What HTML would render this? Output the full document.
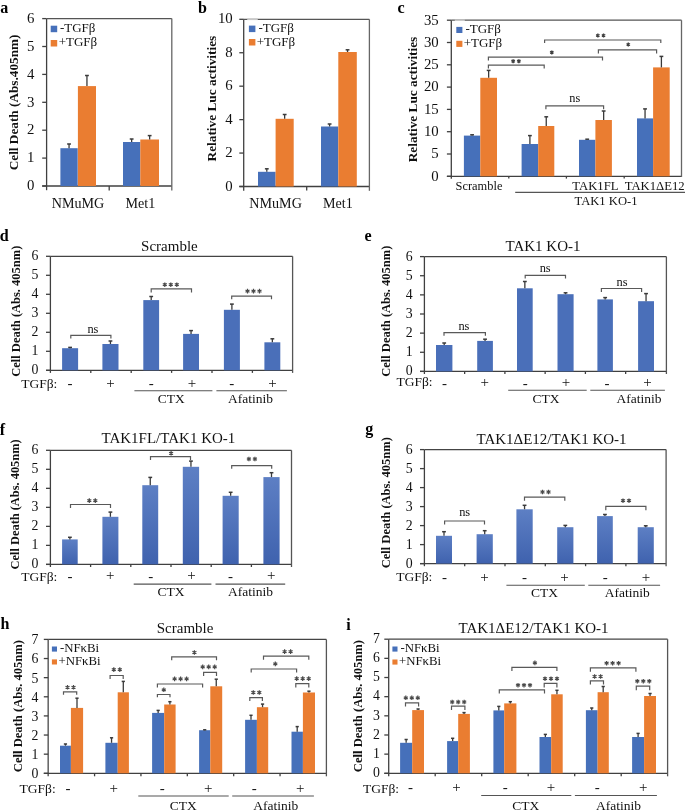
<!DOCTYPE html>
<html><head><meta charset="utf-8"><style>
html,body{margin:0;padding:0;background:#fff;overflow:hidden;width:685px;height:811px;}
svg{display:block;font-family:"Liberation Serif", serif;will-change:transform;}
</style></head><body>
<svg width="685" height="811" viewBox="0 0 685 811">
<defs><linearGradient id="g1" x1="0" y1="0" x2="0" y2="1"><stop offset="0" stop-color="#5d7fc4"/><stop offset="1" stop-color="#3f62ae"/></linearGradient></defs>
<rect width="685" height="811" fill="#fff"/>
<text transform="translate(0.30,12.70) scale(0.92,1)" font-size="17.5" font-weight="bold" fill="#000">a</text>
<line x1="46.60" y1="18.60" x2="46.60" y2="190.20" stroke="#404040" stroke-width="1.3"/>
<line x1="42.20" y1="186.00" x2="46.60" y2="186.00" stroke="#404040" stroke-width="1.3"/>
<text x="34.40" y="190.20" font-size="14.8" text-anchor="end" fill="#111" >0</text>
<line x1="42.20" y1="158.10" x2="46.60" y2="158.10" stroke="#404040" stroke-width="1.3"/>
<text x="34.40" y="162.30" font-size="14.8" text-anchor="end" fill="#111" >1</text>
<line x1="42.20" y1="130.20" x2="46.60" y2="130.20" stroke="#404040" stroke-width="1.3"/>
<text x="34.40" y="134.40" font-size="14.8" text-anchor="end" fill="#111" >2</text>
<line x1="42.20" y1="102.30" x2="46.60" y2="102.30" stroke="#404040" stroke-width="1.3"/>
<text x="34.40" y="106.50" font-size="14.8" text-anchor="end" fill="#111" >3</text>
<line x1="42.20" y1="74.40" x2="46.60" y2="74.40" stroke="#404040" stroke-width="1.3"/>
<text x="34.40" y="78.60" font-size="14.8" text-anchor="end" fill="#111" >4</text>
<line x1="42.20" y1="46.50" x2="46.60" y2="46.50" stroke="#404040" stroke-width="1.3"/>
<text x="34.40" y="50.70" font-size="14.8" text-anchor="end" fill="#111" >5</text>
<line x1="42.20" y1="18.60" x2="46.60" y2="18.60" stroke="#404040" stroke-width="1.3"/>
<text x="34.40" y="22.80" font-size="14.8" text-anchor="end" fill="#111" >6</text>
<line x1="42.20" y1="186.00" x2="171.80" y2="186.00" stroke="#404040" stroke-width="1.3"/>
<line x1="46.60" y1="18.60" x2="171.80" y2="18.60" stroke="#555" stroke-width="1.3"/>
<line x1="171.80" y1="18.60" x2="171.80" y2="190.60" stroke="#666" stroke-width="1.3"/>
<line x1="109.20" y1="186.00" x2="109.20" y2="190.40" stroke="#404040" stroke-width="1.3"/>
<rect x="60.40" y="148.20" width="17.30" height="37.80" fill="#4670BA"/>
<line x1="69.05" y1="148.20" x2="69.05" y2="144.00" stroke="#3a3a3a" stroke-width="1.3"/>
<line x1="67.15" y1="144.00" x2="70.95" y2="144.00" stroke="#3a3a3a" stroke-width="1.5"/>
<rect x="77.90" y="86.10" width="18.10" height="99.90" fill="#EA7D31"/>
<line x1="86.95" y1="86.10" x2="86.95" y2="75.50" stroke="#3a3a3a" stroke-width="1.3"/>
<line x1="85.05" y1="75.50" x2="88.85" y2="75.50" stroke="#3a3a3a" stroke-width="1.5"/>
<rect x="123.00" y="142.00" width="17.30" height="44.00" fill="#4670BA"/>
<line x1="131.65" y1="142.00" x2="131.65" y2="139.00" stroke="#3a3a3a" stroke-width="1.3"/>
<line x1="129.75" y1="139.00" x2="133.55" y2="139.00" stroke="#3a3a3a" stroke-width="1.5"/>
<rect x="140.30" y="139.50" width="18.70" height="46.50" fill="#EA7D31"/>
<line x1="149.65" y1="139.50" x2="149.65" y2="135.60" stroke="#3a3a3a" stroke-width="1.3"/>
<line x1="147.75" y1="135.60" x2="151.55" y2="135.60" stroke="#3a3a3a" stroke-width="1.5"/>
<text x="78.00" y="208.00" font-size="14.1" text-anchor="middle" fill="#111" >NMuMG</text>
<text x="140.40" y="208.00" font-size="14.1" text-anchor="middle" fill="#111" >Met1</text>
<rect x="50.70" y="25.70" width="6.50" height="6.50" fill="#4670BA"/>
<rect x="50.70" y="40.00" width="6.50" height="6.50" fill="#EA7D31"/>
<text x="59.90" y="31.80" font-size="13.0" text-anchor="start" fill="#111" >-TGFβ</text>
<text x="58.70" y="46.30" font-size="13.0" text-anchor="start" fill="#111" >+TGFβ</text>
<text transform="translate(13.40,102.40) rotate(-90)" x="0" y="0" font-size="13.2" text-anchor="middle" dominant-baseline="central" font-weight="bold" fill="#111" textLength="135.7" lengthAdjust="spacingAndGlyphs">Cell Death (Abs.405nm)</text>
<text transform="translate(198.10,12.60) scale(0.92,1)" font-size="17.5" font-weight="bold" fill="#000">b</text>
<line x1="243.70" y1="19.30" x2="243.70" y2="190.70" stroke="#404040" stroke-width="1.3"/>
<line x1="239.30" y1="186.50" x2="243.70" y2="186.50" stroke="#404040" stroke-width="1.3"/>
<text x="232.70" y="190.50" font-size="14.8" text-anchor="end" fill="#111" >0</text>
<line x1="239.30" y1="153.06" x2="243.70" y2="153.06" stroke="#404040" stroke-width="1.3"/>
<text x="232.70" y="157.06" font-size="14.8" text-anchor="end" fill="#111" >2</text>
<line x1="239.30" y1="119.62" x2="243.70" y2="119.62" stroke="#404040" stroke-width="1.3"/>
<text x="232.70" y="123.62" font-size="14.8" text-anchor="end" fill="#111" >4</text>
<line x1="239.30" y1="86.18" x2="243.70" y2="86.18" stroke="#404040" stroke-width="1.3"/>
<text x="232.70" y="90.18" font-size="14.8" text-anchor="end" fill="#111" >6</text>
<line x1="239.30" y1="52.74" x2="243.70" y2="52.74" stroke="#404040" stroke-width="1.3"/>
<text x="232.70" y="56.74" font-size="14.8" text-anchor="end" fill="#111" >8</text>
<line x1="239.30" y1="19.30" x2="243.70" y2="19.30" stroke="#404040" stroke-width="1.3"/>
<text x="232.70" y="23.30" font-size="14.8" text-anchor="end" fill="#111" >10</text>
<line x1="239.30" y1="186.50" x2="369.40" y2="186.50" stroke="#404040" stroke-width="1.3"/>
<line x1="243.70" y1="19.30" x2="369.40" y2="19.30" stroke="#555" stroke-width="1.3"/>
<line x1="369.40" y1="19.30" x2="369.40" y2="190.80" stroke="#666" stroke-width="1.3"/>
<line x1="306.70" y1="186.50" x2="306.70" y2="190.60" stroke="#404040" stroke-width="1.3"/>
<rect x="258.00" y="171.80" width="17.60" height="14.70" fill="#4670BA"/>
<line x1="266.80" y1="171.80" x2="266.80" y2="168.80" stroke="#3a3a3a" stroke-width="1.3"/>
<line x1="264.90" y1="168.80" x2="268.70" y2="168.80" stroke="#3a3a3a" stroke-width="1.5"/>
<rect x="275.60" y="118.80" width="18.10" height="67.70" fill="#EA7D31"/>
<line x1="284.65" y1="118.80" x2="284.65" y2="114.50" stroke="#3a3a3a" stroke-width="1.3"/>
<line x1="282.75" y1="114.50" x2="286.55" y2="114.50" stroke="#3a3a3a" stroke-width="1.5"/>
<rect x="321.00" y="126.50" width="17.20" height="60.00" fill="#4670BA"/>
<line x1="329.60" y1="126.50" x2="329.60" y2="124.00" stroke="#3a3a3a" stroke-width="1.3"/>
<line x1="327.70" y1="124.00" x2="331.50" y2="124.00" stroke="#3a3a3a" stroke-width="1.5"/>
<rect x="338.30" y="52.00" width="18.50" height="134.50" fill="#EA7D31"/>
<line x1="347.55" y1="52.00" x2="347.55" y2="49.80" stroke="#3a3a3a" stroke-width="1.3"/>
<line x1="345.65" y1="49.80" x2="349.45" y2="49.80" stroke="#3a3a3a" stroke-width="1.5"/>
<text x="275.60" y="208.10" font-size="14.1" text-anchor="middle" fill="#111" >NMuMG</text>
<text x="337.90" y="208.10" font-size="14.1" text-anchor="middle" fill="#111" >Met1</text>
<rect x="248.90" y="25.60" width="6.50" height="6.50" fill="#4670BA"/>
<rect x="248.90" y="39.00" width="6.50" height="6.50" fill="#EA7D31"/>
<text x="258.40" y="31.80" font-size="13.0" text-anchor="start" fill="#111" >-TGFβ</text>
<text x="256.70" y="46.10" font-size="13.0" text-anchor="start" fill="#111" >+TGFβ</text>
<line x1="247.20" y1="19.30" x2="257.80" y2="19.30" stroke="#c8c8c8" stroke-width="1.6"/>
<text transform="translate(211.00,98.60) rotate(-90)" x="0" y="0" font-size="13.2" text-anchor="middle" dominant-baseline="central" font-weight="bold" fill="#111" textLength="125.7" lengthAdjust="spacingAndGlyphs">Relative Luc activities</text>
<text transform="translate(397.50,12.60) scale(0.92,1)" font-size="17.5" font-weight="bold" fill="#000">c</text>
<line x1="451.30" y1="20.20" x2="451.30" y2="178.70" stroke="#404040" stroke-width="1.3"/>
<line x1="446.90" y1="176.30" x2="451.30" y2="176.30" stroke="#404040" stroke-width="1.3"/>
<text x="438.70" y="180.60" font-size="14.8" text-anchor="end" fill="#111" >0</text>
<line x1="446.90" y1="154.00" x2="451.30" y2="154.00" stroke="#404040" stroke-width="1.3"/>
<text x="438.70" y="158.30" font-size="14.8" text-anchor="end" fill="#111" >5</text>
<line x1="446.90" y1="131.70" x2="451.30" y2="131.70" stroke="#404040" stroke-width="1.3"/>
<text x="438.70" y="136.00" font-size="14.8" text-anchor="end" fill="#111" >10</text>
<line x1="446.90" y1="109.40" x2="451.30" y2="109.40" stroke="#404040" stroke-width="1.3"/>
<text x="438.70" y="113.70" font-size="14.8" text-anchor="end" fill="#111" >15</text>
<line x1="446.90" y1="87.10" x2="451.30" y2="87.10" stroke="#404040" stroke-width="1.3"/>
<text x="438.70" y="91.40" font-size="14.8" text-anchor="end" fill="#111" >20</text>
<line x1="446.90" y1="64.80" x2="451.30" y2="64.80" stroke="#404040" stroke-width="1.3"/>
<text x="438.70" y="69.10" font-size="14.8" text-anchor="end" fill="#111" >25</text>
<line x1="446.90" y1="42.50" x2="451.30" y2="42.50" stroke="#404040" stroke-width="1.3"/>
<text x="438.70" y="46.80" font-size="14.8" text-anchor="end" fill="#111" >30</text>
<line x1="446.90" y1="20.20" x2="451.30" y2="20.20" stroke="#404040" stroke-width="1.3"/>
<text x="438.70" y="24.50" font-size="14.8" text-anchor="end" fill="#111" >35</text>
<line x1="446.90" y1="176.30" x2="681.50" y2="176.30" stroke="#404040" stroke-width="1.3"/>
<line x1="451.30" y1="20.20" x2="681.50" y2="20.20" stroke="#555" stroke-width="1.3"/>
<line x1="681.50" y1="20.20" x2="681.50" y2="177.00" stroke="#666" stroke-width="1.3"/>
<line x1="508.80" y1="176.30" x2="508.80" y2="178.60" stroke="#404040" stroke-width="1.3"/>
<line x1="566.40" y1="176.30" x2="566.40" y2="178.60" stroke="#404040" stroke-width="1.3"/>
<line x1="624.20" y1="176.30" x2="624.20" y2="178.60" stroke="#404040" stroke-width="1.3"/>
<rect x="463.90" y="135.60" width="16.40" height="40.70" fill="#4670BA"/>
<line x1="472.10" y1="135.60" x2="472.10" y2="134.80" stroke="#3a3a3a" stroke-width="1.3"/>
<line x1="470.20" y1="134.80" x2="474.00" y2="134.80" stroke="#3a3a3a" stroke-width="1.5"/>
<rect x="480.30" y="77.80" width="16.70" height="98.50" fill="#EA7D31"/>
<line x1="488.65" y1="77.80" x2="488.65" y2="70.40" stroke="#3a3a3a" stroke-width="1.3"/>
<line x1="486.75" y1="70.40" x2="490.55" y2="70.40" stroke="#3a3a3a" stroke-width="1.5"/>
<rect x="521.60" y="144.00" width="16.60" height="32.30" fill="#4670BA"/>
<line x1="529.90" y1="144.00" x2="529.90" y2="135.60" stroke="#3a3a3a" stroke-width="1.3"/>
<line x1="528.00" y1="135.60" x2="531.80" y2="135.60" stroke="#3a3a3a" stroke-width="1.5"/>
<rect x="538.20" y="126.00" width="16.10" height="50.30" fill="#EA7D31"/>
<line x1="546.25" y1="126.00" x2="546.25" y2="116.80" stroke="#3a3a3a" stroke-width="1.3"/>
<line x1="544.35" y1="116.80" x2="548.15" y2="116.80" stroke="#3a3a3a" stroke-width="1.5"/>
<rect x="579.00" y="139.80" width="16.40" height="36.50" fill="#4670BA"/>
<line x1="587.20" y1="139.80" x2="587.20" y2="139.20" stroke="#3a3a3a" stroke-width="1.3"/>
<line x1="585.30" y1="139.20" x2="589.10" y2="139.20" stroke="#3a3a3a" stroke-width="1.5"/>
<rect x="595.40" y="120.00" width="16.50" height="56.30" fill="#EA7D31"/>
<line x1="603.65" y1="120.00" x2="603.65" y2="111.00" stroke="#3a3a3a" stroke-width="1.3"/>
<line x1="601.75" y1="111.00" x2="605.55" y2="111.00" stroke="#3a3a3a" stroke-width="1.5"/>
<rect x="637.00" y="118.40" width="16.10" height="57.90" fill="#4670BA"/>
<line x1="645.05" y1="118.40" x2="645.05" y2="108.90" stroke="#3a3a3a" stroke-width="1.3"/>
<line x1="643.15" y1="108.90" x2="646.95" y2="108.90" stroke="#3a3a3a" stroke-width="1.5"/>
<rect x="653.10" y="67.40" width="16.60" height="108.90" fill="#EA7D31"/>
<line x1="661.40" y1="67.40" x2="661.40" y2="56.40" stroke="#3a3a3a" stroke-width="1.3"/>
<line x1="659.50" y1="56.40" x2="663.30" y2="56.40" stroke="#3a3a3a" stroke-width="1.5"/>
<text x="479.00" y="190.00" font-size="12.4" text-anchor="middle" fill="#111" >Scramble</text>
<text x="595.40" y="189.80" font-size="12.7" text-anchor="middle" fill="#111" >TAK1FL</text>
<text x="654.70" y="189.80" font-size="12.7" text-anchor="middle" fill="#111" >TAK1ΔE12</text>
<line x1="515.20" y1="192.40" x2="685.00" y2="192.40" stroke="#555" stroke-width="1.1"/>
<text x="606.00" y="205.10" font-size="12.6" text-anchor="middle" fill="#111" >TAK1 KO-1</text>
<rect x="456.30" y="26.90" width="6.10" height="6.10" fill="#4670BA"/>
<rect x="456.30" y="40.80" width="6.10" height="6.10" fill="#EA7D31"/>
<text x="465.40" y="32.80" font-size="13.0" text-anchor="start" fill="#111" >-TGFβ</text>
<text x="463.70" y="46.80" font-size="13.0" text-anchor="start" fill="#111" >+TGFβ</text>
<line x1="454.80" y1="20.20" x2="464.80" y2="20.20" stroke="#c8c8c8" stroke-width="1.6"/>
<text transform="translate(412.30,99.50) rotate(-90)" x="0" y="0" font-size="13.2" text-anchor="middle" dominant-baseline="central" font-weight="bold" fill="#111" textLength="125.5" lengthAdjust="spacingAndGlyphs">Relative Luc activities</text>
<path d="M488.40,68.50V65.20H544.20V68.50" fill="none" stroke="#595959" stroke-width="1.2"/>
<path d="M513.15,63.20L513.15,59.20M511.42,62.20L514.88,60.20M514.88,62.20L511.42,60.20M518.85,63.20L518.85,59.20M517.12,62.20L520.58,60.20M520.58,62.20L517.12,60.20" stroke="#404040" stroke-width="1.35" fill="none"/>
<path d="M488.40,60.40V57.10H602.50V60.40" fill="none" stroke="#595959" stroke-width="1.2"/>
<path d="M551.80,54.40L551.80,50.40M550.07,53.40L553.53,51.40M553.53,53.40L550.07,51.40" stroke="#404040" stroke-width="1.35" fill="none"/>
<path d="M544.60,42.90V40.00H660.80V42.90" fill="none" stroke="#595959" stroke-width="1.2"/>
<path d="M597.85,37.50L597.85,33.50M596.12,36.50L599.58,34.50M599.58,36.50L596.12,34.50M603.55,37.50L603.55,33.50M601.82,36.50L605.28,34.50M605.28,36.50L601.82,34.50" stroke="#404040" stroke-width="1.35" fill="none"/>
<path d="M598.40,53.40V49.80H656.60V53.40" fill="none" stroke="#595959" stroke-width="1.2"/>
<path d="M628.30,46.50L628.30,42.50M626.57,45.50L630.03,43.50M630.03,45.50L626.57,43.50" stroke="#404040" stroke-width="1.35" fill="none"/>
<path d="M545.90,109.20V105.90H603.60V109.20" fill="none" stroke="#595959" stroke-width="1.2"/>
<text x="574.80" y="101.90" font-size="12.3" text-anchor="middle" fill="#111" >ns</text>
<text transform="translate(-0.30,241.30) scale(0.92,1)" font-size="17.5" font-weight="bold" fill="#000">d</text>
<line x1="50.40" y1="256.30" x2="50.40" y2="372.90" stroke="#404040" stroke-width="1.3"/>
<line x1="46.00" y1="370.30" x2="50.40" y2="370.30" stroke="#404040" stroke-width="1.3"/>
<text x="38.30" y="374.20" font-size="13.8" text-anchor="end" fill="#111" >0</text>
<line x1="46.00" y1="351.30" x2="50.40" y2="351.30" stroke="#404040" stroke-width="1.3"/>
<text x="38.30" y="355.20" font-size="13.8" text-anchor="end" fill="#111" >1</text>
<line x1="46.00" y1="332.30" x2="50.40" y2="332.30" stroke="#404040" stroke-width="1.3"/>
<text x="38.30" y="336.20" font-size="13.8" text-anchor="end" fill="#111" >2</text>
<line x1="46.00" y1="313.30" x2="50.40" y2="313.30" stroke="#404040" stroke-width="1.3"/>
<text x="38.30" y="317.20" font-size="13.8" text-anchor="end" fill="#111" >3</text>
<line x1="46.00" y1="294.30" x2="50.40" y2="294.30" stroke="#404040" stroke-width="1.3"/>
<text x="38.30" y="298.20" font-size="13.8" text-anchor="end" fill="#111" >4</text>
<line x1="46.00" y1="275.30" x2="50.40" y2="275.30" stroke="#404040" stroke-width="1.3"/>
<text x="38.30" y="279.20" font-size="13.8" text-anchor="end" fill="#111" >5</text>
<line x1="46.00" y1="256.30" x2="50.40" y2="256.30" stroke="#404040" stroke-width="1.3"/>
<text x="38.30" y="260.20" font-size="13.8" text-anchor="end" fill="#111" >6</text>
<line x1="46.00" y1="370.30" x2="292.60" y2="370.30" stroke="#404040" stroke-width="1.3"/>
<line x1="50.40" y1="256.30" x2="292.60" y2="256.30" stroke="#444" stroke-width="1.3"/>
<line x1="292.60" y1="256.30" x2="292.60" y2="372.90" stroke="#555" stroke-width="1.3"/>
<line x1="90.80" y1="370.30" x2="90.80" y2="372.90" stroke="#404040" stroke-width="1.3"/>
<line x1="131.20" y1="370.30" x2="131.20" y2="372.90" stroke="#404040" stroke-width="1.3"/>
<line x1="171.60" y1="370.30" x2="171.60" y2="372.90" stroke="#404040" stroke-width="1.3"/>
<line x1="212.00" y1="370.30" x2="212.00" y2="372.90" stroke="#404040" stroke-width="1.3"/>
<line x1="252.40" y1="370.30" x2="252.40" y2="372.90" stroke="#404040" stroke-width="1.3"/>
<rect x="62.10" y="348.20" width="16.00" height="22.10" fill="#4a6fb9"/>
<line x1="70.10" y1="348.20" x2="70.10" y2="347.40" stroke="#3a3a3a" stroke-width="1.3"/>
<line x1="68.20" y1="347.40" x2="72.00" y2="347.40" stroke="#3a3a3a" stroke-width="1.5"/>
<rect x="102.40" y="344.00" width="16.10" height="26.30" fill="#4a6fb9"/>
<line x1="110.45" y1="344.00" x2="110.45" y2="341.00" stroke="#3a3a3a" stroke-width="1.3"/>
<line x1="108.55" y1="341.00" x2="112.35" y2="341.00" stroke="#3a3a3a" stroke-width="1.5"/>
<rect x="143.30" y="300.10" width="15.80" height="70.20" fill="#4a6fb9"/>
<line x1="151.20" y1="300.10" x2="151.20" y2="296.50" stroke="#3a3a3a" stroke-width="1.3"/>
<line x1="149.30" y1="296.50" x2="153.10" y2="296.50" stroke="#3a3a3a" stroke-width="1.5"/>
<rect x="183.10" y="333.90" width="15.90" height="36.40" fill="#4a6fb9"/>
<line x1="191.05" y1="333.90" x2="191.05" y2="330.60" stroke="#3a3a3a" stroke-width="1.3"/>
<line x1="189.15" y1="330.60" x2="192.95" y2="330.60" stroke="#3a3a3a" stroke-width="1.5"/>
<rect x="223.90" y="309.80" width="16.00" height="60.50" fill="#4a6fb9"/>
<line x1="231.90" y1="309.80" x2="231.90" y2="304.10" stroke="#3a3a3a" stroke-width="1.3"/>
<line x1="230.00" y1="304.10" x2="233.80" y2="304.10" stroke="#3a3a3a" stroke-width="1.5"/>
<rect x="264.40" y="342.30" width="15.90" height="28.00" fill="#4a6fb9"/>
<line x1="272.35" y1="342.30" x2="272.35" y2="338.80" stroke="#3a3a3a" stroke-width="1.3"/>
<line x1="270.45" y1="338.80" x2="274.25" y2="338.80" stroke="#3a3a3a" stroke-width="1.5"/>
<path d="M70.80,338.50V335.30H110.90V338.50" fill="none" stroke="#595959" stroke-width="1.2"/>
<text x="92.90" y="332.90" font-size="12.4" text-anchor="middle" fill="#111" >ns</text>
<path d="M151.20,292.50V288.90H191.50V292.50" fill="none" stroke="#595959" stroke-width="1.2"/>
<path d="M164.80,287.00L164.80,282.40M162.81,285.85L166.79,283.55M166.79,285.85L162.81,283.55M170.80,287.00L170.80,282.40M168.81,285.85L172.79,283.55M172.79,285.85L168.81,283.55M176.80,287.00L176.80,282.40M174.81,285.85L178.79,283.55M178.79,285.85L174.81,283.55" stroke="#4a4a4a" stroke-width="1.2" fill="none"/>
<path d="M231.70,299.30V296.20H271.50V299.30" fill="none" stroke="#595959" stroke-width="1.2"/>
<path d="M247.50,293.40L247.50,288.80M245.51,292.25L249.49,289.95M249.49,292.25L245.51,289.95M253.50,293.40L253.50,288.80M251.51,292.25L255.49,289.95M255.49,292.25L251.51,289.95M259.50,293.40L259.50,288.80M257.51,292.25L261.49,289.95M261.49,292.25L257.51,289.95" stroke="#4a4a4a" stroke-width="1.2" fill="none"/>
<text x="169.40" y="251.00" font-size="15.0" text-anchor="middle" fill="#111" >Scramble</text>
<text x="21.20" y="387.90" font-size="13.5" text-anchor="start" fill="#111" >TGFβ:</text>
<text x="69.90" y="388.00" font-size="15" text-anchor="middle" fill="#111" >-</text>
<text x="110.50" y="387.80" font-size="15" text-anchor="middle" fill="#111" >+</text>
<text x="151.20" y="388.00" font-size="15" text-anchor="middle" fill="#111" >-</text>
<text x="192.00" y="387.80" font-size="15" text-anchor="middle" fill="#111" >+</text>
<text x="231.70" y="388.00" font-size="15" text-anchor="middle" fill="#111" >-</text>
<text x="272.60" y="387.80" font-size="15" text-anchor="middle" fill="#111" >+</text>
<line x1="134.40" y1="390.70" x2="212.40" y2="390.70" stroke="#555" stroke-width="1.1"/>
<line x1="216.40" y1="390.70" x2="286.90" y2="390.70" stroke="#555" stroke-width="1.1"/>
<text x="171.30" y="403.00" font-size="13.5" text-anchor="middle" fill="#111" >CTX</text>
<text x="250.60" y="403.00" font-size="13.5" text-anchor="middle" fill="#111" >Afatinib</text>
<text transform="translate(15.80,311.20) rotate(-90)" x="0" y="0" font-size="12.5" text-anchor="middle" dominant-baseline="central" font-weight="bold" fill="#111" textLength="131.1" lengthAdjust="spacingAndGlyphs">Cell Death (Abs. 405nm)</text>
<text transform="translate(364.50,241.40) scale(0.92,1)" font-size="17.5" font-weight="bold" fill="#000">e</text>
<line x1="424.40" y1="256.60" x2="424.40" y2="374.00" stroke="#404040" stroke-width="1.3"/>
<line x1="420.00" y1="371.40" x2="424.40" y2="371.40" stroke="#404040" stroke-width="1.3"/>
<text x="412.70" y="375.30" font-size="13.8" text-anchor="end" fill="#111" >0</text>
<line x1="420.00" y1="352.27" x2="424.40" y2="352.27" stroke="#404040" stroke-width="1.3"/>
<text x="412.70" y="356.17" font-size="13.8" text-anchor="end" fill="#111" >1</text>
<line x1="420.00" y1="333.13" x2="424.40" y2="333.13" stroke="#404040" stroke-width="1.3"/>
<text x="412.70" y="337.03" font-size="13.8" text-anchor="end" fill="#111" >2</text>
<line x1="420.00" y1="314.00" x2="424.40" y2="314.00" stroke="#404040" stroke-width="1.3"/>
<text x="412.70" y="317.90" font-size="13.8" text-anchor="end" fill="#111" >3</text>
<line x1="420.00" y1="294.87" x2="424.40" y2="294.87" stroke="#404040" stroke-width="1.3"/>
<text x="412.70" y="298.77" font-size="13.8" text-anchor="end" fill="#111" >4</text>
<line x1="420.00" y1="275.73" x2="424.40" y2="275.73" stroke="#404040" stroke-width="1.3"/>
<text x="412.70" y="279.63" font-size="13.8" text-anchor="end" fill="#111" >5</text>
<line x1="420.00" y1="256.60" x2="424.40" y2="256.60" stroke="#404040" stroke-width="1.3"/>
<text x="412.70" y="260.50" font-size="13.8" text-anchor="end" fill="#111" >6</text>
<line x1="420.00" y1="371.40" x2="666.40" y2="371.40" stroke="#404040" stroke-width="1.3"/>
<line x1="424.40" y1="256.60" x2="666.40" y2="256.60" stroke="#444" stroke-width="1.3"/>
<line x1="666.40" y1="256.60" x2="666.40" y2="374.00" stroke="#555" stroke-width="1.3"/>
<line x1="464.65" y1="371.40" x2="464.65" y2="374.00" stroke="#404040" stroke-width="1.3"/>
<line x1="504.90" y1="371.40" x2="504.90" y2="374.00" stroke="#404040" stroke-width="1.3"/>
<line x1="545.15" y1="371.40" x2="545.15" y2="374.00" stroke="#404040" stroke-width="1.3"/>
<line x1="585.40" y1="371.40" x2="585.40" y2="374.00" stroke="#404040" stroke-width="1.3"/>
<line x1="625.65" y1="371.40" x2="625.65" y2="374.00" stroke="#404040" stroke-width="1.3"/>
<rect x="436.00" y="345.00" width="16.40" height="26.40" fill="#4a6fb9"/>
<line x1="444.20" y1="345.00" x2="444.20" y2="343.00" stroke="#3a3a3a" stroke-width="1.3"/>
<line x1="442.30" y1="343.00" x2="446.10" y2="343.00" stroke="#3a3a3a" stroke-width="1.5"/>
<rect x="477.20" y="340.90" width="15.70" height="30.50" fill="#4a6fb9"/>
<line x1="485.05" y1="340.90" x2="485.05" y2="339.20" stroke="#3a3a3a" stroke-width="1.3"/>
<line x1="483.15" y1="339.20" x2="486.95" y2="339.20" stroke="#3a3a3a" stroke-width="1.5"/>
<rect x="517.00" y="288.30" width="15.70" height="83.10" fill="#4a6fb9"/>
<line x1="524.85" y1="288.30" x2="524.85" y2="281.50" stroke="#3a3a3a" stroke-width="1.3"/>
<line x1="522.95" y1="281.50" x2="526.75" y2="281.50" stroke="#3a3a3a" stroke-width="1.5"/>
<rect x="557.50" y="294.20" width="16.10" height="77.20" fill="#4a6fb9"/>
<line x1="565.55" y1="294.20" x2="565.55" y2="292.80" stroke="#3a3a3a" stroke-width="1.3"/>
<line x1="563.65" y1="292.80" x2="567.45" y2="292.80" stroke="#3a3a3a" stroke-width="1.5"/>
<rect x="597.40" y="299.40" width="15.50" height="72.00" fill="#4a6fb9"/>
<line x1="605.15" y1="299.40" x2="605.15" y2="297.60" stroke="#3a3a3a" stroke-width="1.3"/>
<line x1="603.25" y1="297.60" x2="607.05" y2="297.60" stroke="#3a3a3a" stroke-width="1.5"/>
<rect x="638.10" y="301.20" width="15.90" height="70.20" fill="#4a6fb9"/>
<line x1="646.05" y1="301.20" x2="646.05" y2="293.60" stroke="#3a3a3a" stroke-width="1.3"/>
<line x1="644.15" y1="293.60" x2="647.95" y2="293.60" stroke="#3a3a3a" stroke-width="1.5"/>
<path d="M444.00,335.70V332.60H485.40V335.70" fill="none" stroke="#595959" stroke-width="1.2"/>
<text x="463.90" y="330.40" font-size="12.4" text-anchor="middle" fill="#111" >ns</text>
<path d="M525.20,278.60V275.40H565.50V278.60" fill="none" stroke="#595959" stroke-width="1.2"/>
<text x="545.20" y="272.30" font-size="12.4" text-anchor="middle" fill="#111" >ns</text>
<path d="M601.40,292.00V288.50H641.60V292.00" fill="none" stroke="#595959" stroke-width="1.2"/>
<text x="622.00" y="285.70" font-size="12.4" text-anchor="middle" fill="#111" >ns</text>
<text x="543.00" y="251.20" font-size="15.0" text-anchor="middle" fill="#111" >TAK1 KO-1</text>
<text x="396.40" y="386.30" font-size="13.5" text-anchor="start" fill="#111" >TGFβ:</text>
<text x="444.60" y="387.50" font-size="15" text-anchor="middle" fill="#111" >-</text>
<text x="484.70" y="387.30" font-size="15" text-anchor="middle" fill="#111" >+</text>
<text x="525.20" y="387.50" font-size="15" text-anchor="middle" fill="#111" >-</text>
<text x="566.10" y="387.30" font-size="15" text-anchor="middle" fill="#111" >+</text>
<text x="607.00" y="387.50" font-size="15" text-anchor="middle" fill="#111" >-</text>
<text x="647.60" y="387.30" font-size="15" text-anchor="middle" fill="#111" >+</text>
<line x1="508.20" y1="390.30" x2="586.70" y2="390.30" stroke="#555" stroke-width="1.1"/>
<line x1="590.30" y1="390.30" x2="664.90" y2="390.30" stroke="#555" stroke-width="1.1"/>
<text x="546.00" y="402.50" font-size="13.5" text-anchor="middle" fill="#111" >CTX</text>
<text x="639.10" y="402.50" font-size="13.5" text-anchor="middle" fill="#111" >Afatinib</text>
<text transform="translate(386.40,311.20) rotate(-90)" x="0" y="0" font-size="12.5" text-anchor="middle" dominant-baseline="central" font-weight="bold" fill="#111" textLength="131.1" lengthAdjust="spacingAndGlyphs">Cell Death (Abs. 405nm)</text>
<text transform="translate(-0.30,434.80) scale(0.92,1)" font-size="17.5" font-weight="bold" fill="#000">f</text>
<line x1="50.40" y1="450.30" x2="50.40" y2="567.00" stroke="#404040" stroke-width="1.3"/>
<line x1="46.00" y1="564.40" x2="50.40" y2="564.40" stroke="#404040" stroke-width="1.3"/>
<text x="38.30" y="568.30" font-size="13.8" text-anchor="end" fill="#111" >0</text>
<line x1="46.00" y1="545.38" x2="50.40" y2="545.38" stroke="#404040" stroke-width="1.3"/>
<text x="38.30" y="549.28" font-size="13.8" text-anchor="end" fill="#111" >1</text>
<line x1="46.00" y1="526.37" x2="50.40" y2="526.37" stroke="#404040" stroke-width="1.3"/>
<text x="38.30" y="530.27" font-size="13.8" text-anchor="end" fill="#111" >2</text>
<line x1="46.00" y1="507.35" x2="50.40" y2="507.35" stroke="#404040" stroke-width="1.3"/>
<text x="38.30" y="511.25" font-size="13.8" text-anchor="end" fill="#111" >3</text>
<line x1="46.00" y1="488.33" x2="50.40" y2="488.33" stroke="#404040" stroke-width="1.3"/>
<text x="38.30" y="492.23" font-size="13.8" text-anchor="end" fill="#111" >4</text>
<line x1="46.00" y1="469.32" x2="50.40" y2="469.32" stroke="#404040" stroke-width="1.3"/>
<text x="38.30" y="473.22" font-size="13.8" text-anchor="end" fill="#111" >5</text>
<line x1="46.00" y1="450.30" x2="50.40" y2="450.30" stroke="#404040" stroke-width="1.3"/>
<text x="38.30" y="454.20" font-size="13.8" text-anchor="end" fill="#111" >6</text>
<line x1="46.00" y1="564.40" x2="291.50" y2="564.40" stroke="#404040" stroke-width="1.3"/>
<line x1="50.40" y1="450.30" x2="291.50" y2="450.30" stroke="#444" stroke-width="1.3"/>
<line x1="291.50" y1="450.30" x2="291.50" y2="567.00" stroke="#555" stroke-width="1.3"/>
<line x1="90.60" y1="564.40" x2="90.60" y2="567.00" stroke="#404040" stroke-width="1.3"/>
<line x1="130.80" y1="564.40" x2="130.80" y2="567.00" stroke="#404040" stroke-width="1.3"/>
<line x1="171.00" y1="564.40" x2="171.00" y2="567.00" stroke="#404040" stroke-width="1.3"/>
<line x1="211.20" y1="564.40" x2="211.20" y2="567.00" stroke="#404040" stroke-width="1.3"/>
<line x1="251.40" y1="564.40" x2="251.40" y2="567.00" stroke="#404040" stroke-width="1.3"/>
<rect x="62.10" y="539.40" width="15.60" height="25.00" fill="url(#g1)"/>
<line x1="69.90" y1="539.40" x2="69.90" y2="537.30" stroke="#3a3a3a" stroke-width="1.3"/>
<line x1="68.00" y1="537.30" x2="71.80" y2="537.30" stroke="#3a3a3a" stroke-width="1.5"/>
<rect x="102.40" y="516.80" width="16.00" height="47.60" fill="url(#g1)"/>
<line x1="110.40" y1="516.80" x2="110.40" y2="512.10" stroke="#3a3a3a" stroke-width="1.3"/>
<line x1="108.50" y1="512.10" x2="112.30" y2="512.10" stroke="#3a3a3a" stroke-width="1.5"/>
<rect x="142.30" y="485.20" width="15.90" height="79.20" fill="url(#g1)"/>
<line x1="150.25" y1="485.20" x2="150.25" y2="477.40" stroke="#3a3a3a" stroke-width="1.3"/>
<line x1="148.35" y1="477.40" x2="152.15" y2="477.40" stroke="#3a3a3a" stroke-width="1.5"/>
<rect x="182.80" y="466.80" width="16.30" height="97.60" fill="url(#g1)"/>
<line x1="190.95" y1="466.80" x2="190.95" y2="461.10" stroke="#3a3a3a" stroke-width="1.3"/>
<line x1="189.05" y1="461.10" x2="192.85" y2="461.10" stroke="#3a3a3a" stroke-width="1.5"/>
<rect x="222.60" y="495.80" width="16.10" height="68.60" fill="url(#g1)"/>
<line x1="230.65" y1="495.80" x2="230.65" y2="492.30" stroke="#3a3a3a" stroke-width="1.3"/>
<line x1="228.75" y1="492.30" x2="232.55" y2="492.30" stroke="#3a3a3a" stroke-width="1.5"/>
<rect x="263.40" y="477.10" width="16.20" height="87.30" fill="url(#g1)"/>
<line x1="271.50" y1="477.10" x2="271.50" y2="472.70" stroke="#3a3a3a" stroke-width="1.3"/>
<line x1="269.60" y1="472.70" x2="273.40" y2="472.70" stroke="#3a3a3a" stroke-width="1.5"/>
<path d="M70.50,507.90V504.50H110.50V507.90" fill="none" stroke="#595959" stroke-width="1.2"/>
<path d="M89.30,502.90L89.30,498.30M87.31,501.75L91.29,499.45M91.29,501.75L87.31,499.45M95.30,502.90L95.30,498.30M93.31,501.75L97.29,499.45M97.29,501.75L93.31,499.45" stroke="#4a4a4a" stroke-width="1.2" fill="none"/>
<path d="M150.50,460.00V456.60H190.50V460.00" fill="none" stroke="#595959" stroke-width="1.2"/>
<path d="M171.10,455.60L171.10,451.00M169.11,454.45L173.09,452.15M173.09,454.45L169.11,452.15" stroke="#4a4a4a" stroke-width="1.2" fill="none"/>
<path d="M231.70,468.70V465.70H271.70V468.70" fill="none" stroke="#595959" stroke-width="1.2"/>
<path d="M248.90,461.30L248.90,456.70M246.91,460.15L250.89,457.85M250.89,460.15L246.91,457.85M254.90,461.30L254.90,456.70M252.91,460.15L256.89,457.85M256.89,460.15L252.91,457.85" stroke="#4a4a4a" stroke-width="1.2" fill="none"/>
<text x="168.40" y="443.40" font-size="15.0" text-anchor="middle" fill="#111" >TAK1FL/TAK1 KO-1</text>
<text x="21.20" y="580.80" font-size="13.5" text-anchor="start" fill="#111" >TGFβ:</text>
<text x="70.00" y="580.50" font-size="15" text-anchor="middle" fill="#111" >-</text>
<text x="110.20" y="580.30" font-size="15" text-anchor="middle" fill="#111" >+</text>
<text x="150.70" y="580.50" font-size="15" text-anchor="middle" fill="#111" >-</text>
<text x="191.40" y="580.30" font-size="15" text-anchor="middle" fill="#111" >+</text>
<text x="230.50" y="580.50" font-size="15" text-anchor="middle" fill="#111" >-</text>
<text x="271.20" y="580.30" font-size="15" text-anchor="middle" fill="#111" >+</text>
<line x1="133.70" y1="584.10" x2="211.40" y2="584.10" stroke="#555" stroke-width="1.1"/>
<line x1="215.50" y1="584.10" x2="285.20" y2="584.10" stroke="#555" stroke-width="1.1"/>
<text x="171.10" y="596.40" font-size="13.5" text-anchor="middle" fill="#111" >CTX</text>
<text x="250.50" y="596.40" font-size="13.5" text-anchor="middle" fill="#111" >Afatinib</text>
<text transform="translate(14.70,504.40) rotate(-90)" x="0" y="0" font-size="12.5" text-anchor="middle" dominant-baseline="central" font-weight="bold" fill="#111" textLength="130.0" lengthAdjust="spacingAndGlyphs">Cell Death (Abs. 405nm)</text>
<text transform="translate(365.30,434.20) scale(0.92,1)" font-size="17.5" font-weight="bold" fill="#000">g</text>
<line x1="424.40" y1="449.60" x2="424.40" y2="566.20" stroke="#404040" stroke-width="1.3"/>
<line x1="420.00" y1="563.60" x2="424.40" y2="563.60" stroke="#404040" stroke-width="1.3"/>
<text x="412.70" y="567.50" font-size="13.8" text-anchor="end" fill="#111" >0</text>
<line x1="420.00" y1="544.60" x2="424.40" y2="544.60" stroke="#404040" stroke-width="1.3"/>
<text x="412.70" y="548.50" font-size="13.8" text-anchor="end" fill="#111" >1</text>
<line x1="420.00" y1="525.60" x2="424.40" y2="525.60" stroke="#404040" stroke-width="1.3"/>
<text x="412.70" y="529.50" font-size="13.8" text-anchor="end" fill="#111" >2</text>
<line x1="420.00" y1="506.60" x2="424.40" y2="506.60" stroke="#404040" stroke-width="1.3"/>
<text x="412.70" y="510.50" font-size="13.8" text-anchor="end" fill="#111" >3</text>
<line x1="420.00" y1="487.60" x2="424.40" y2="487.60" stroke="#404040" stroke-width="1.3"/>
<text x="412.70" y="491.50" font-size="13.8" text-anchor="end" fill="#111" >4</text>
<line x1="420.00" y1="468.60" x2="424.40" y2="468.60" stroke="#404040" stroke-width="1.3"/>
<text x="412.70" y="472.50" font-size="13.8" text-anchor="end" fill="#111" >5</text>
<line x1="420.00" y1="449.60" x2="424.40" y2="449.60" stroke="#404040" stroke-width="1.3"/>
<text x="412.70" y="453.50" font-size="13.8" text-anchor="end" fill="#111" >6</text>
<line x1="420.00" y1="563.60" x2="666.10" y2="563.60" stroke="#404040" stroke-width="1.3"/>
<line x1="424.40" y1="449.60" x2="666.10" y2="449.60" stroke="#444" stroke-width="1.3"/>
<line x1="666.10" y1="449.60" x2="666.10" y2="566.20" stroke="#555" stroke-width="1.3"/>
<line x1="464.70" y1="563.60" x2="464.70" y2="566.20" stroke="#404040" stroke-width="1.3"/>
<line x1="505.00" y1="563.60" x2="505.00" y2="566.20" stroke="#404040" stroke-width="1.3"/>
<line x1="545.30" y1="563.60" x2="545.30" y2="566.20" stroke="#404040" stroke-width="1.3"/>
<line x1="585.60" y1="563.60" x2="585.60" y2="566.20" stroke="#404040" stroke-width="1.3"/>
<line x1="625.90" y1="563.60" x2="625.90" y2="566.20" stroke="#404040" stroke-width="1.3"/>
<rect x="436.00" y="535.80" width="16.00" height="27.80" fill="url(#g1)"/>
<line x1="444.00" y1="535.80" x2="444.00" y2="531.70" stroke="#3a3a3a" stroke-width="1.3"/>
<line x1="442.10" y1="531.70" x2="445.90" y2="531.70" stroke="#3a3a3a" stroke-width="1.5"/>
<rect x="476.60" y="534.20" width="16.20" height="29.40" fill="url(#g1)"/>
<line x1="484.70" y1="534.20" x2="484.70" y2="530.70" stroke="#3a3a3a" stroke-width="1.3"/>
<line x1="482.80" y1="530.70" x2="486.60" y2="530.70" stroke="#3a3a3a" stroke-width="1.5"/>
<rect x="516.40" y="509.30" width="16.30" height="54.30" fill="url(#g1)"/>
<line x1="524.55" y1="509.30" x2="524.55" y2="505.30" stroke="#3a3a3a" stroke-width="1.3"/>
<line x1="522.65" y1="505.30" x2="526.45" y2="505.30" stroke="#3a3a3a" stroke-width="1.5"/>
<rect x="557.20" y="527.20" width="16.20" height="36.40" fill="url(#g1)"/>
<line x1="565.30" y1="527.20" x2="565.30" y2="525.40" stroke="#3a3a3a" stroke-width="1.3"/>
<line x1="563.40" y1="525.40" x2="567.20" y2="525.40" stroke="#3a3a3a" stroke-width="1.5"/>
<rect x="597.10" y="516.10" width="15.70" height="47.50" fill="url(#g1)"/>
<line x1="604.95" y1="516.10" x2="604.95" y2="514.50" stroke="#3a3a3a" stroke-width="1.3"/>
<line x1="603.05" y1="514.50" x2="606.85" y2="514.50" stroke="#3a3a3a" stroke-width="1.5"/>
<rect x="637.70" y="527.20" width="16.10" height="36.40" fill="url(#g1)"/>
<line x1="645.75" y1="527.20" x2="645.75" y2="525.80" stroke="#3a3a3a" stroke-width="1.3"/>
<line x1="643.85" y1="525.80" x2="647.65" y2="525.80" stroke="#3a3a3a" stroke-width="1.5"/>
<path d="M444.60,524.60V521.00H484.50V524.60" fill="none" stroke="#595959" stroke-width="1.2"/>
<text x="464.70" y="516.40" font-size="12.4" text-anchor="middle" fill="#111" >ns</text>
<path d="M524.50,500.70V497.10H564.80V500.70" fill="none" stroke="#595959" stroke-width="1.2"/>
<path d="M542.50,494.30L542.50,489.70M540.51,493.15L544.49,490.85M544.49,493.15L540.51,490.85M548.50,494.30L548.50,489.70M546.51,493.15L550.49,490.85M550.49,493.15L546.51,490.85" stroke="#4a4a4a" stroke-width="1.2" fill="none"/>
<path d="M605.80,510.20V506.40H645.90V510.20" fill="none" stroke="#595959" stroke-width="1.2"/>
<path d="M623.00,503.00L623.00,498.40M621.01,501.85L624.99,499.55M624.99,501.85L621.01,499.55M629.00,503.00L629.00,498.40M627.01,501.85L630.99,499.55M630.99,501.85L627.01,499.55" stroke="#4a4a4a" stroke-width="1.2" fill="none"/>
<text x="551.50" y="443.60" font-size="15.0" text-anchor="middle" fill="#111" >TAK1ΔE12/TAK1 KO-1</text>
<text x="396.20" y="581.20" font-size="13.5" text-anchor="start" fill="#111" >TGFβ:</text>
<text x="444.60" y="582.10" font-size="15" text-anchor="middle" fill="#111" >-</text>
<text x="484.50" y="581.90" font-size="15" text-anchor="middle" fill="#111" >+</text>
<text x="524.50" y="582.10" font-size="15" text-anchor="middle" fill="#111" >-</text>
<text x="564.60" y="581.90" font-size="15" text-anchor="middle" fill="#111" >+</text>
<text x="605.30" y="582.10" font-size="15" text-anchor="middle" fill="#111" >-</text>
<text x="645.90" y="581.90" font-size="15" text-anchor="middle" fill="#111" >+</text>
<line x1="506.40" y1="585.20" x2="584.80" y2="585.20" stroke="#555" stroke-width="1.1"/>
<line x1="588.30" y1="585.20" x2="660.10" y2="585.20" stroke="#555" stroke-width="1.1"/>
<text x="544.60" y="597.40" font-size="13.5" text-anchor="middle" fill="#111" >CTX</text>
<text x="627.30" y="597.40" font-size="13.5" text-anchor="middle" fill="#111" >Afatinib</text>
<text transform="translate(385.90,502.70) rotate(-90)" x="0" y="0" font-size="12.5" text-anchor="middle" dominant-baseline="central" font-weight="bold" fill="#111" textLength="131.1" lengthAdjust="spacingAndGlyphs">Cell Death (Abs. 405nm)</text>
<text transform="translate(0.50,629.40) scale(0.92,1)" font-size="17.5" font-weight="bold" fill="#000">h</text>
<line x1="48.20" y1="639.40" x2="48.20" y2="776.30" stroke="#6a6a6a" stroke-width="1.6"/>
<line x1="43.80" y1="773.30" x2="48.20" y2="773.30" stroke="#404040" stroke-width="1.3"/>
<text x="38.40" y="778.20" font-size="13.8" text-anchor="end" fill="#111" >0</text>
<line x1="43.80" y1="754.17" x2="48.20" y2="754.17" stroke="#404040" stroke-width="1.3"/>
<text x="38.40" y="759.07" font-size="13.8" text-anchor="end" fill="#111" >1</text>
<line x1="43.80" y1="735.04" x2="48.20" y2="735.04" stroke="#404040" stroke-width="1.3"/>
<text x="38.40" y="739.94" font-size="13.8" text-anchor="end" fill="#111" >2</text>
<line x1="43.80" y1="715.91" x2="48.20" y2="715.91" stroke="#404040" stroke-width="1.3"/>
<text x="38.40" y="720.81" font-size="13.8" text-anchor="end" fill="#111" >3</text>
<line x1="43.80" y1="696.79" x2="48.20" y2="696.79" stroke="#404040" stroke-width="1.3"/>
<text x="38.40" y="701.69" font-size="13.8" text-anchor="end" fill="#111" >4</text>
<line x1="43.80" y1="677.66" x2="48.20" y2="677.66" stroke="#404040" stroke-width="1.3"/>
<text x="38.40" y="682.56" font-size="13.8" text-anchor="end" fill="#111" >5</text>
<line x1="43.80" y1="658.53" x2="48.20" y2="658.53" stroke="#404040" stroke-width="1.3"/>
<text x="38.40" y="663.43" font-size="13.8" text-anchor="end" fill="#111" >6</text>
<line x1="43.80" y1="639.40" x2="48.20" y2="639.40" stroke="#404040" stroke-width="1.3"/>
<text x="38.40" y="644.30" font-size="13.8" text-anchor="end" fill="#111" >7</text>
<line x1="43.80" y1="773.30" x2="326.40" y2="773.30" stroke="#404040" stroke-width="1.3"/>
<line x1="48.20" y1="639.40" x2="326.40" y2="639.40" stroke="#444" stroke-width="1.3"/>
<line x1="326.40" y1="639.40" x2="326.40" y2="776.30" stroke="#555" stroke-width="1.3"/>
<line x1="94.57" y1="773.30" x2="94.57" y2="776.30" stroke="#404040" stroke-width="1.3"/>
<line x1="140.94" y1="773.30" x2="140.94" y2="776.30" stroke="#404040" stroke-width="1.3"/>
<line x1="187.31" y1="773.30" x2="187.31" y2="776.30" stroke="#404040" stroke-width="1.3"/>
<line x1="233.68" y1="773.30" x2="233.68" y2="776.30" stroke="#404040" stroke-width="1.3"/>
<line x1="280.05" y1="773.30" x2="280.05" y2="776.30" stroke="#404040" stroke-width="1.3"/>
<rect x="60.00" y="745.70" width="10.90" height="27.60" fill="#4670BA"/>
<line x1="65.45" y1="745.70" x2="65.45" y2="744.00" stroke="#3a3a3a" stroke-width="1.3"/>
<line x1="63.85" y1="744.00" x2="67.05" y2="744.00" stroke="#3a3a3a" stroke-width="1.5"/>
<rect x="70.90" y="707.90" width="12.20" height="65.40" fill="#EA7D31"/>
<line x1="77.00" y1="707.90" x2="77.00" y2="698.20" stroke="#3a3a3a" stroke-width="1.3"/>
<line x1="75.40" y1="698.20" x2="78.60" y2="698.20" stroke="#3a3a3a" stroke-width="1.5"/>
<rect x="105.40" y="742.80" width="12.30" height="30.50" fill="#4670BA"/>
<line x1="111.55" y1="742.80" x2="111.55" y2="737.80" stroke="#3a3a3a" stroke-width="1.3"/>
<line x1="109.95" y1="737.80" x2="113.15" y2="737.80" stroke="#3a3a3a" stroke-width="1.5"/>
<rect x="117.70" y="692.30" width="11.20" height="81.00" fill="#EA7D31"/>
<line x1="123.30" y1="692.30" x2="123.30" y2="681.40" stroke="#3a3a3a" stroke-width="1.3"/>
<line x1="121.70" y1="681.40" x2="124.90" y2="681.40" stroke="#3a3a3a" stroke-width="1.5"/>
<rect x="152.10" y="712.90" width="12.10" height="60.40" fill="#4670BA"/>
<line x1="158.15" y1="712.90" x2="158.15" y2="710.40" stroke="#3a3a3a" stroke-width="1.3"/>
<line x1="156.55" y1="710.40" x2="159.75" y2="710.40" stroke="#3a3a3a" stroke-width="1.5"/>
<rect x="164.20" y="704.50" width="11.40" height="68.80" fill="#EA7D31"/>
<line x1="169.90" y1="704.50" x2="169.90" y2="701.70" stroke="#3a3a3a" stroke-width="1.3"/>
<line x1="168.30" y1="701.70" x2="171.50" y2="701.70" stroke="#3a3a3a" stroke-width="1.5"/>
<rect x="199.10" y="730.20" width="11.20" height="43.10" fill="#4670BA"/>
<line x1="204.70" y1="730.20" x2="204.70" y2="729.80" stroke="#3a3a3a" stroke-width="1.3"/>
<line x1="203.10" y1="729.80" x2="206.30" y2="729.80" stroke="#3a3a3a" stroke-width="1.5"/>
<rect x="210.30" y="686.30" width="11.90" height="87.00" fill="#EA7D31"/>
<line x1="216.25" y1="686.30" x2="216.25" y2="679.20" stroke="#3a3a3a" stroke-width="1.3"/>
<line x1="214.65" y1="679.20" x2="217.85" y2="679.20" stroke="#3a3a3a" stroke-width="1.5"/>
<rect x="245.10" y="719.80" width="11.80" height="53.50" fill="#4670BA"/>
<line x1="251.00" y1="719.80" x2="251.00" y2="715.30" stroke="#3a3a3a" stroke-width="1.3"/>
<line x1="249.40" y1="715.30" x2="252.60" y2="715.30" stroke="#3a3a3a" stroke-width="1.5"/>
<rect x="256.90" y="707.20" width="11.30" height="66.10" fill="#EA7D31"/>
<line x1="262.55" y1="707.20" x2="262.55" y2="704.10" stroke="#3a3a3a" stroke-width="1.3"/>
<line x1="260.95" y1="704.10" x2="264.15" y2="704.10" stroke="#3a3a3a" stroke-width="1.5"/>
<rect x="291.50" y="731.70" width="11.40" height="41.60" fill="#4670BA"/>
<line x1="297.20" y1="731.70" x2="297.20" y2="726.60" stroke="#3a3a3a" stroke-width="1.3"/>
<line x1="295.60" y1="726.60" x2="298.80" y2="726.60" stroke="#3a3a3a" stroke-width="1.5"/>
<rect x="302.90" y="692.50" width="12.10" height="80.80" fill="#EA7D31"/>
<line x1="308.95" y1="692.50" x2="308.95" y2="691.20" stroke="#3a3a3a" stroke-width="1.3"/>
<line x1="307.35" y1="691.20" x2="310.55" y2="691.20" stroke="#3a3a3a" stroke-width="1.5"/>
<path d="M63.50,694.80V691.80H76.70V694.80" fill="none" stroke="#595959" stroke-width="1.2"/>
<path d="M67.50,689.60L67.50,685.00M65.51,688.45L69.49,686.15M69.49,688.45L65.51,686.15M73.50,689.60L73.50,685.00M71.51,688.45L75.49,686.15M75.49,688.45L71.51,686.15" stroke="#4a4a4a" stroke-width="1.2" fill="none"/>
<path d="M110.10,678.90V675.50H123.20V678.90" fill="none" stroke="#595959" stroke-width="1.2"/>
<path d="M113.80,671.90L113.80,667.30M111.81,670.75L115.79,668.45M115.79,670.75L111.81,668.45M119.80,671.90L119.80,667.30M117.81,670.75L121.79,668.45M121.79,670.75L117.81,668.45" stroke="#4a4a4a" stroke-width="1.2" fill="none"/>
<path d="M157.40,697.30V694.50H170.00V697.30" fill="none" stroke="#595959" stroke-width="1.2"/>
<path d="M163.80,692.10L163.80,687.50M161.81,690.95L165.79,688.65M165.79,690.95L161.81,688.65" stroke="#4a4a4a" stroke-width="1.2" fill="none"/>
<path d="M157.40,687.50V684.00H202.60V687.50" fill="none" stroke="#595959" stroke-width="1.2"/>
<path d="M174.60,681.20L174.60,676.60M172.61,680.05L176.59,677.75M176.59,680.05L172.61,677.75M180.60,681.20L180.60,676.60M178.61,680.05L182.59,677.75M182.59,680.05L178.61,677.75M186.60,681.20L186.60,676.60M184.61,680.05L188.59,677.75M188.59,680.05L184.61,677.75" stroke="#4a4a4a" stroke-width="1.2" fill="none"/>
<path d="M171.70,660.20V656.80H216.50V660.20" fill="none" stroke="#595959" stroke-width="1.2"/>
<path d="M194.40,654.80L194.40,650.20M192.41,653.65L196.39,651.35M196.39,653.65L192.41,651.35" stroke="#4a4a4a" stroke-width="1.2" fill="none"/>
<path d="M203.60,675.90V672.40H216.50V675.90" fill="none" stroke="#595959" stroke-width="1.2"/>
<path d="M202.70,669.20L202.70,664.60M200.71,668.05L204.69,665.75M204.69,668.05L200.71,665.75M208.70,669.20L208.70,664.60M206.71,668.05L210.69,665.75M210.69,668.05L206.71,665.75M214.70,669.20L214.70,664.60M212.71,668.05L216.69,665.75M216.69,668.05L212.71,665.75" stroke="#4a4a4a" stroke-width="1.2" fill="none"/>
<path d="M249.80,701.00V697.60H262.40V701.00" fill="none" stroke="#595959" stroke-width="1.2"/>
<path d="M253.30,694.80L253.30,690.20M251.31,693.65L255.29,691.35M255.29,693.65L251.31,691.35M259.30,694.80L259.30,690.20M257.31,693.65L261.29,691.35M261.29,693.65L257.31,691.35" stroke="#4a4a4a" stroke-width="1.2" fill="none"/>
<path d="M251.20,672.40V669.00H296.60V672.40" fill="none" stroke="#595959" stroke-width="1.2"/>
<path d="M275.30,666.20L275.30,661.60M273.31,665.05L277.29,662.75M277.29,665.05L273.31,662.75" stroke="#4a4a4a" stroke-width="1.2" fill="none"/>
<path d="M263.50,659.80V656.10H308.80V659.80" fill="none" stroke="#595959" stroke-width="1.2"/>
<path d="M284.60,653.90L284.60,649.30M282.61,652.75L286.59,650.45M286.59,652.75L282.61,650.45M290.60,653.90L290.60,649.30M288.61,652.75L292.59,650.45M292.59,652.75L288.61,650.45" stroke="#4a4a4a" stroke-width="1.2" fill="none"/>
<path d="M295.80,687.40V683.70H308.80V687.40" fill="none" stroke="#595959" stroke-width="1.2"/>
<path d="M296.70,680.90L296.70,676.30M294.71,679.75L298.69,677.45M298.69,679.75L294.71,677.45M302.70,680.90L302.70,676.30M300.71,679.75L304.69,677.45M304.69,679.75L300.71,677.45M308.70,680.90L308.70,676.30M306.71,679.75L310.69,677.45M310.69,679.75L306.71,677.45" stroke="#4a4a4a" stroke-width="1.2" fill="none"/>
<text x="185.10" y="633.30" font-size="15.0" text-anchor="middle" fill="#111" >Scramble</text>
<rect x="51.90" y="646.50" width="5.10" height="5.10" fill="#4670BA"/>
<rect x="51.90" y="659.40" width="5.10" height="5.10" fill="#EA7D31"/>
<text x="59.90" y="651.80" font-size="12.8" text-anchor="start" fill="#111" >-NFκBi</text>
<text x="58.50" y="665.40" font-size="12.8" text-anchor="start" fill="#111" >+NFκBi</text>
<text x="19.60" y="793.30" font-size="13.5" text-anchor="start" fill="#111" >TGFβ:</text>
<text x="68.00" y="792.70" font-size="15" text-anchor="middle" fill="#111" >-</text>
<text x="113.80" y="792.50" font-size="15" text-anchor="middle" fill="#111" >+</text>
<text x="162.20" y="792.70" font-size="15" text-anchor="middle" fill="#111" >-</text>
<text x="208.30" y="792.50" font-size="15" text-anchor="middle" fill="#111" >+</text>
<text x="254.30" y="792.70" font-size="15" text-anchor="middle" fill="#111" >-</text>
<text x="300.30" y="792.50" font-size="15" text-anchor="middle" fill="#111" >+</text>
<line x1="138.30" y1="796.00" x2="228.70" y2="796.00" stroke="#555" stroke-width="1.1"/>
<line x1="232.20" y1="796.00" x2="313.90" y2="796.00" stroke="#555" stroke-width="1.1"/>
<text x="183.30" y="809.70" font-size="13.5" text-anchor="middle" fill="#111" >CTX</text>
<text x="275.80" y="809.70" font-size="13.5" text-anchor="middle" fill="#111" >Afatinib</text>
<text transform="translate(18.30,706.10) rotate(-90)" x="0" y="0" font-size="12.5" text-anchor="middle" dominant-baseline="central" font-weight="bold" fill="#111" textLength="132.2" lengthAdjust="spacingAndGlyphs">Cell Death (Abs. 405nm)</text>
<text transform="translate(346.30,629.50) scale(0.92,1)" font-size="17.5" font-weight="bold" fill="#000">i</text>
<line x1="388.70" y1="639.20" x2="388.70" y2="776.30" stroke="#404040" stroke-width="1.3"/>
<line x1="384.30" y1="773.30" x2="388.70" y2="773.30" stroke="#404040" stroke-width="1.3"/>
<text x="379.80" y="777.00" font-size="13.8" text-anchor="end" fill="#111" >0</text>
<line x1="384.30" y1="754.14" x2="388.70" y2="754.14" stroke="#404040" stroke-width="1.3"/>
<text x="379.80" y="757.84" font-size="13.8" text-anchor="end" fill="#111" >1</text>
<line x1="384.30" y1="734.99" x2="388.70" y2="734.99" stroke="#404040" stroke-width="1.3"/>
<text x="379.80" y="738.69" font-size="13.8" text-anchor="end" fill="#111" >2</text>
<line x1="384.30" y1="715.83" x2="388.70" y2="715.83" stroke="#404040" stroke-width="1.3"/>
<text x="379.80" y="719.53" font-size="13.8" text-anchor="end" fill="#111" >3</text>
<line x1="384.30" y1="696.67" x2="388.70" y2="696.67" stroke="#404040" stroke-width="1.3"/>
<text x="379.80" y="700.37" font-size="13.8" text-anchor="end" fill="#111" >4</text>
<line x1="384.30" y1="677.51" x2="388.70" y2="677.51" stroke="#404040" stroke-width="1.3"/>
<text x="379.80" y="681.21" font-size="13.8" text-anchor="end" fill="#111" >5</text>
<line x1="384.30" y1="658.36" x2="388.70" y2="658.36" stroke="#404040" stroke-width="1.3"/>
<text x="379.80" y="662.06" font-size="13.8" text-anchor="end" fill="#111" >6</text>
<line x1="384.30" y1="639.20" x2="388.70" y2="639.20" stroke="#404040" stroke-width="1.3"/>
<text x="379.80" y="642.90" font-size="13.8" text-anchor="end" fill="#111" >7</text>
<line x1="384.30" y1="773.30" x2="667.60" y2="773.30" stroke="#404040" stroke-width="1.3"/>
<line x1="388.70" y1="639.20" x2="667.60" y2="639.20" stroke="#444" stroke-width="1.3"/>
<line x1="667.60" y1="639.20" x2="667.60" y2="776.30" stroke="#555" stroke-width="1.3"/>
<line x1="435.20" y1="773.30" x2="435.20" y2="776.30" stroke="#404040" stroke-width="1.3"/>
<line x1="481.70" y1="773.30" x2="481.70" y2="776.30" stroke="#404040" stroke-width="1.3"/>
<line x1="528.20" y1="773.30" x2="528.20" y2="776.30" stroke="#404040" stroke-width="1.3"/>
<line x1="574.70" y1="773.30" x2="574.70" y2="776.30" stroke="#404040" stroke-width="1.3"/>
<line x1="621.20" y1="773.30" x2="621.20" y2="776.30" stroke="#404040" stroke-width="1.3"/>
<rect x="400.10" y="742.80" width="12.10" height="30.50" fill="#4670BA"/>
<line x1="406.15" y1="742.80" x2="406.15" y2="739.50" stroke="#3a3a3a" stroke-width="1.3"/>
<line x1="404.55" y1="739.50" x2="407.75" y2="739.50" stroke="#3a3a3a" stroke-width="1.5"/>
<rect x="412.20" y="710.10" width="11.80" height="63.20" fill="#EA7D31"/>
<line x1="418.10" y1="710.10" x2="418.10" y2="709.00" stroke="#3a3a3a" stroke-width="1.3"/>
<line x1="416.50" y1="709.00" x2="419.70" y2="709.00" stroke="#3a3a3a" stroke-width="1.5"/>
<rect x="447.10" y="741.10" width="11.10" height="32.20" fill="#4670BA"/>
<line x1="452.65" y1="741.10" x2="452.65" y2="738.30" stroke="#3a3a3a" stroke-width="1.3"/>
<line x1="451.05" y1="738.30" x2="454.25" y2="738.30" stroke="#3a3a3a" stroke-width="1.5"/>
<rect x="458.20" y="713.90" width="11.70" height="59.40" fill="#EA7D31"/>
<line x1="464.05" y1="713.90" x2="464.05" y2="712.60" stroke="#3a3a3a" stroke-width="1.3"/>
<line x1="462.45" y1="712.60" x2="465.65" y2="712.60" stroke="#3a3a3a" stroke-width="1.5"/>
<rect x="493.40" y="710.40" width="10.80" height="62.90" fill="#4670BA"/>
<line x1="498.80" y1="710.40" x2="498.80" y2="706.40" stroke="#3a3a3a" stroke-width="1.3"/>
<line x1="497.20" y1="706.40" x2="500.40" y2="706.40" stroke="#3a3a3a" stroke-width="1.5"/>
<rect x="504.20" y="703.40" width="12.20" height="69.90" fill="#EA7D31"/>
<line x1="510.30" y1="703.40" x2="510.30" y2="701.70" stroke="#3a3a3a" stroke-width="1.3"/>
<line x1="508.70" y1="701.70" x2="511.90" y2="701.70" stroke="#3a3a3a" stroke-width="1.5"/>
<rect x="539.50" y="737.00" width="11.70" height="36.30" fill="#4670BA"/>
<line x1="545.35" y1="737.00" x2="545.35" y2="734.40" stroke="#3a3a3a" stroke-width="1.3"/>
<line x1="543.75" y1="734.40" x2="546.95" y2="734.40" stroke="#3a3a3a" stroke-width="1.5"/>
<rect x="551.20" y="694.30" width="11.50" height="79.00" fill="#EA7D31"/>
<line x1="556.95" y1="694.30" x2="556.95" y2="690.30" stroke="#3a3a3a" stroke-width="1.3"/>
<line x1="555.35" y1="690.30" x2="558.55" y2="690.30" stroke="#3a3a3a" stroke-width="1.5"/>
<rect x="585.90" y="710.20" width="11.70" height="63.10" fill="#4670BA"/>
<line x1="591.75" y1="710.20" x2="591.75" y2="708.00" stroke="#3a3a3a" stroke-width="1.3"/>
<line x1="590.15" y1="708.00" x2="593.35" y2="708.00" stroke="#3a3a3a" stroke-width="1.5"/>
<rect x="597.60" y="692.20" width="11.20" height="81.10" fill="#EA7D31"/>
<line x1="603.20" y1="692.20" x2="603.20" y2="686.50" stroke="#3a3a3a" stroke-width="1.3"/>
<line x1="601.60" y1="686.50" x2="604.80" y2="686.50" stroke="#3a3a3a" stroke-width="1.5"/>
<rect x="632.10" y="737.00" width="12.00" height="36.30" fill="#4670BA"/>
<line x1="638.10" y1="737.00" x2="638.10" y2="733.40" stroke="#3a3a3a" stroke-width="1.3"/>
<line x1="636.50" y1="733.40" x2="639.70" y2="733.40" stroke="#3a3a3a" stroke-width="1.5"/>
<rect x="644.10" y="696.00" width="11.90" height="77.30" fill="#EA7D31"/>
<line x1="650.05" y1="696.00" x2="650.05" y2="693.50" stroke="#3a3a3a" stroke-width="1.3"/>
<line x1="648.45" y1="693.50" x2="651.65" y2="693.50" stroke="#3a3a3a" stroke-width="1.5"/>
<path d="M405.50,706.60V702.90H418.60V706.60" fill="none" stroke="#595959" stroke-width="1.2"/>
<path d="M405.80,700.10L405.80,695.50M403.81,698.95L407.79,696.65M407.79,698.95L403.81,696.65M411.80,700.10L411.80,695.50M409.81,698.95L413.79,696.65M413.79,698.95L409.81,696.65M417.80,700.10L417.80,695.50M415.81,698.95L419.79,696.65M419.79,698.95L415.81,696.65" stroke="#4a4a4a" stroke-width="1.2" fill="none"/>
<path d="M451.50,710.00V706.20H464.90V710.00" fill="none" stroke="#595959" stroke-width="1.2"/>
<path d="M452.20,704.30L452.20,699.70M450.21,703.15L454.19,700.85M454.19,703.15L450.21,700.85M458.20,704.30L458.20,699.70M456.21,703.15L460.19,700.85M460.19,703.15L456.21,700.85M464.20,704.30L464.20,699.70M462.21,703.15L466.19,700.85M466.19,703.15L462.21,700.85" stroke="#4a4a4a" stroke-width="1.2" fill="none"/>
<path d="M499.30,693.50V689.80H544.50V693.50" fill="none" stroke="#595959" stroke-width="1.2"/>
<path d="M518.00,687.50L518.00,682.90M516.01,686.35L519.99,684.05M519.99,686.35L516.01,684.05M524.00,687.50L524.00,682.90M522.01,686.35L525.99,684.05M525.99,686.35L522.01,684.05M530.00,687.50L530.00,682.90M528.01,686.35L531.99,684.05M531.99,686.35L528.01,684.05" stroke="#4a4a4a" stroke-width="1.2" fill="none"/>
<path d="M511.90,670.90V667.40H556.90V670.90" fill="none" stroke="#595959" stroke-width="1.2"/>
<path d="M534.90,665.20L534.90,660.60M532.91,664.05L536.89,661.75M536.89,664.05L532.91,661.75" stroke="#4a4a4a" stroke-width="1.2" fill="none"/>
<path d="M544.20,687.60V683.30H556.90V687.60" fill="none" stroke="#595959" stroke-width="1.2"/>
<path d="M545.00,681.00L545.00,676.40M543.01,679.85L546.99,677.55M546.99,679.85L543.01,677.55M551.00,681.00L551.00,676.40M549.01,679.85L552.99,677.55M552.99,679.85L549.01,677.55M557.00,681.00L557.00,676.40M555.01,679.85L558.99,677.55M558.99,679.85L555.01,677.55" stroke="#4a4a4a" stroke-width="1.2" fill="none"/>
<path d="M590.40,684.40V680.80H603.50V684.40" fill="none" stroke="#595959" stroke-width="1.2"/>
<path d="M594.60,678.80L594.60,674.20M592.61,677.65L596.59,675.35M596.59,677.65L592.61,675.35M600.60,678.80L600.60,674.20M598.61,677.65L602.59,675.35M602.59,677.65L598.61,675.35" stroke="#4a4a4a" stroke-width="1.2" fill="none"/>
<path d="M590.40,671.70V667.90H635.90V671.70" fill="none" stroke="#595959" stroke-width="1.2"/>
<path d="M606.60,665.50L606.60,660.90M604.61,664.35L608.59,662.05M608.59,664.35L604.61,662.05M612.60,665.50L612.60,660.90M610.61,664.35L614.59,662.05M614.59,664.35L610.61,662.05M618.60,665.50L618.60,660.90M616.61,664.35L620.59,662.05M620.59,664.35L616.61,662.05" stroke="#4a4a4a" stroke-width="1.2" fill="none"/>
<path d="M636.30,690.30V686.10H649.70V690.30" fill="none" stroke="#595959" stroke-width="1.2"/>
<path d="M637.30,683.50L637.30,678.90M635.31,682.35L639.29,680.05M639.29,682.35L635.31,680.05M643.30,683.50L643.30,678.90M641.31,682.35L645.29,680.05M645.29,682.35L641.31,680.05M649.30,683.50L649.30,678.90M647.31,682.35L651.29,680.05M651.29,682.35L647.31,680.05" stroke="#4a4a4a" stroke-width="1.2" fill="none"/>
<text x="533.50" y="633.10" font-size="15.0" text-anchor="middle" fill="#111" >TAK1ΔE12/TAK1 KO-1</text>
<rect x="392.40" y="646.50" width="5.10" height="5.10" fill="#4670BA"/>
<rect x="392.40" y="659.50" width="5.10" height="5.10" fill="#EA7D31"/>
<text x="400.40" y="651.80" font-size="12.8" text-anchor="start" fill="#111" >-NFκBi</text>
<text x="399.00" y="665.40" font-size="12.8" text-anchor="start" fill="#111" >+NFκBi</text>
<text x="362.90" y="793.00" font-size="13.5" text-anchor="start" fill="#111" >TGFβ:</text>
<text x="410.50" y="792.20" font-size="15" text-anchor="middle" fill="#111" >-</text>
<text x="456.50" y="792.00" font-size="15" text-anchor="middle" fill="#111" >+</text>
<text x="505.20" y="792.20" font-size="15" text-anchor="middle" fill="#111" >-</text>
<text x="551.00" y="792.00" font-size="15" text-anchor="middle" fill="#111" >+</text>
<text x="597.20" y="792.20" font-size="15" text-anchor="middle" fill="#111" >-</text>
<text x="643.30" y="792.00" font-size="15" text-anchor="middle" fill="#111" >+</text>
<line x1="481.20" y1="795.50" x2="571.30" y2="795.50" stroke="#555" stroke-width="1.1"/>
<line x1="574.90" y1="795.50" x2="656.90" y2="795.50" stroke="#555" stroke-width="1.1"/>
<text x="525.70" y="809.70" font-size="13.5" text-anchor="middle" fill="#111" >CTX</text>
<text x="618.40" y="809.70" font-size="13.5" text-anchor="middle" fill="#111" >Afatinib</text>
<text transform="translate(358.30,706.10) rotate(-90)" x="0" y="0" font-size="12.5" text-anchor="middle" dominant-baseline="central" font-weight="bold" fill="#111" textLength="132.2" lengthAdjust="spacingAndGlyphs">Cell Death (Abs. 405nm)</text>
</svg></body></html>
